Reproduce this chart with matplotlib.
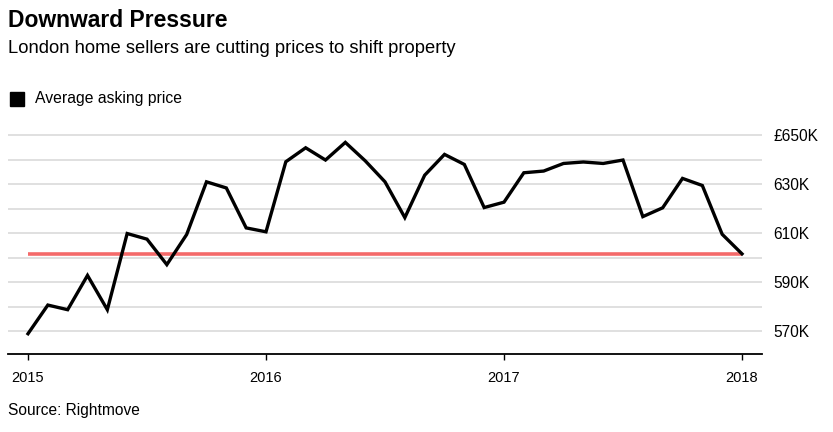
import matplotlib
matplotlib.use("Agg")
import matplotlib.pyplot as plt
import numpy as np
import pandas as pd

plt.rcParams['font.family'] = ['Liberation Sans', 'DejaVu Sans']

months = pd.date_range("2015-01-01", "2018-01-01", freq="MS")
prices = [568.9, 580.6, 578.7, 592.7, 578.7, 609.8, 607.5, 597.1, 609.4, 630.9, 628.4, 612.1,
          610.5, 639.1, 644.8, 639.8, 647.0, 639.5, 630.9, 616.3, 633.6, 642.1, 638.0, 620.4,
          622.6, 634.6, 635.3, 638.4, 639.0, 638.4, 639.8, 616.7, 620.3, 632.3, 629.4, 609.5,
          601.5]
reference_level = 601.3
ytick_vals = [570, 590, 610, 630, 650]
ytick_labels = ["570K", "590K", "610K", "630K", "£650K"]
grid_vals = [570, 580, 590, 600, 610, 620, 630, 640, 650]
xtick_years = ["2015", "2016", "2017", "2018"]

W, H = 833, 432
fig = plt.figure(figsize=(W / 100, H / 100), dpi=100)

# axes in pixel coords
left, right, top, bottom = 8, 762, 125, 354.3
ax = fig.add_axes([left / W, 1 - bottom / H, (right - left) / W, (bottom - top) / H])

x = np.arange(len(months))
ppm = (742 - 28) / 36
ax.set_xlim(-(28 - left) / ppm, 36 + (right - 742) / ppm)
ax.set_ylim(560.5, 654.1)

for g in grid_vals:
    ax.axhline(g, color="#dddddd", lw=1.3, zorder=1)

ax.plot([0, 36], [reference_level, reference_level], color="#f46a6a", lw=2.6,
        solid_capstyle="butt", zorder=2)
ax.plot(x, prices, color="black", lw=2.4, solid_joinstyle="miter", zorder=3)

for s in ["top", "right", "left"]:
    ax.spines[s].set_visible(False)
ax.spines["bottom"].set_color("black")
ax.spines["bottom"].set_linewidth(1.3)

ax.set_xticks([0, 12, 24, 36])
ax.set_xticklabels(xtick_years, fontsize=10.5)
ax.tick_params(axis="x", length=4, width=1, color="black", pad=8)

ax.yaxis.tick_right()
ax.set_yticks(ytick_vals)
ax.set_yticklabels(ytick_labels, fontsize=11.2)
ax.tick_params(axis="y", length=0, pad=8)
for lab in ax.get_yticklabels():
    lab.set_horizontalalignment("left")

fig.text(8 / W, 1 - 9 / H, "Downward Pressure", fontsize=16.5, fontweight="bold",
         va="top", ha="left")
fig.text(8 / W, 1 - 40 / H, "London home sellers are cutting prices to shift property",
         fontsize=13.2, va="top", ha="left")

fig.patches.append(matplotlib.patches.Rectangle((10 / W, 1 - 106 / H), 14 / W, 14 / H,
                                                transform=fig.transFigure, color="black"))
fig.text(35 / W, 1 - 99 / H, "Average asking price", fontsize=11.3, va="center", ha="left")

fig.text(8 / W, 1 - 411 / H, "Source: Rightmove", fontsize=11.2, va="center", ha="left")

fig.savefig("out.png", dpi=100)
